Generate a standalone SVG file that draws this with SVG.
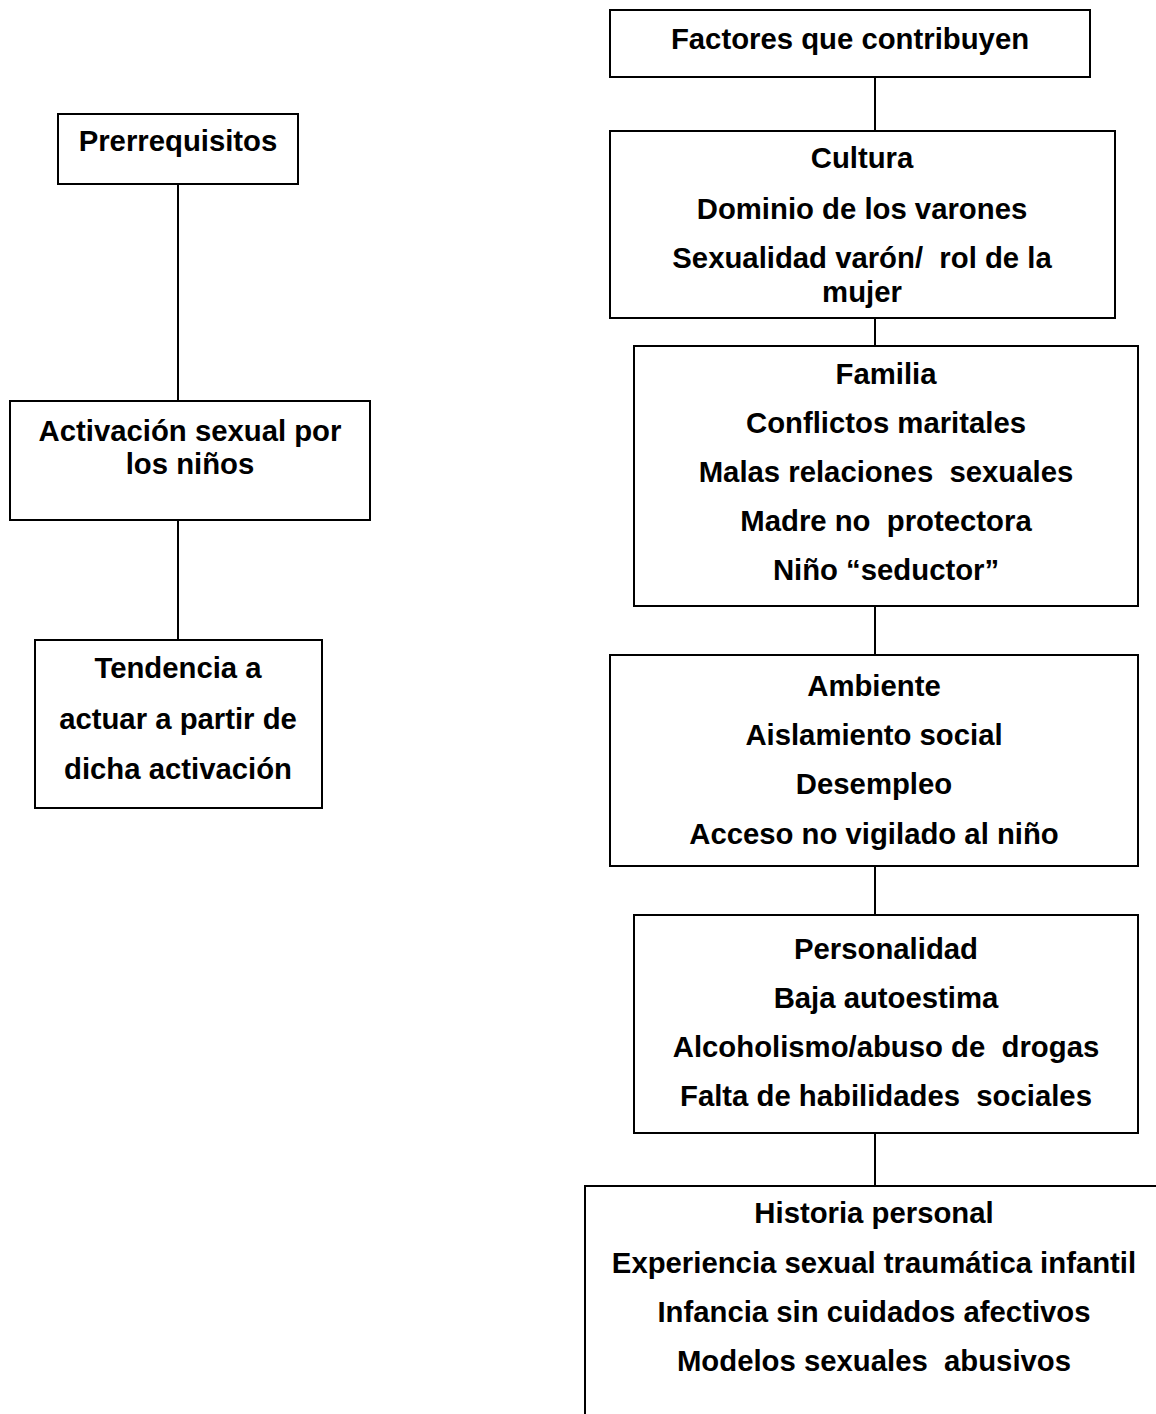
<svg xmlns="http://www.w3.org/2000/svg" width="1156" height="1414" viewBox="0 0 1156 1414">
<style>
.box{fill:#fff;stroke:#000;stroke-width:2}
.t{font-family:"Liberation Sans",Arial,sans-serif;font-weight:bold;font-size:29.3px;fill:#000;text-anchor:middle;white-space:pre}
.c{stroke:#000;stroke-width:2;fill:none}
</style>
<rect width="1156" height="1414" fill="#fff"/>
<g id="connectors">
<line class="c" x1="178" y1="184" x2="178" y2="401"/>
<line class="c" x1="178" y1="520" x2="178" y2="640"/>
<line class="c" x1="875" y1="77" x2="875" y2="131"/>
<line class="c" x1="875" y1="318" x2="875" y2="346"/>
<line class="c" x1="875" y1="606" x2="875" y2="655"/>
<line class="c" x1="875" y1="866" x2="875" y2="915"/>
<line class="c" x1="875" y1="1133" x2="875" y2="1186"/>
</g>
<g id="prerrequisitos">
<rect class="box" x="58" y="114" width="240" height="70"/>
<text class="t" x="178" y="151">Prerrequisitos</text>
</g>
<g id="activacion">
<rect class="box" x="10" y="401" width="360" height="119"/>
<text class="t" x="190" y="441">Activación sexual por</text>
<text class="t" x="190" y="474">los niños</text>
</g>
<g id="tendencia">
<rect class="box" x="35" y="640" width="287" height="168"/>
<text class="t" x="178" y="678">Tendencia a</text>
<text class="t" x="178" y="729">actuar a partir de</text>
<text class="t" x="178" y="779">dicha activación</text>
</g>
<g id="factores">
<rect class="box" x="610" y="10" width="480" height="67"/>
<text class="t" x="850" y="49">Factores que contribuyen</text>
</g>
<g id="cultura">
<rect class="box" x="610" y="131" width="505" height="187"/>
<text class="t" x="862" y="168">Cultura</text>
<text class="t" x="862" y="219">Dominio de los varones</text>
<text class="t" x="862" y="268">Sexualidad varón/  rol de la</text>
<text class="t" x="862" y="302">mujer</text>
</g>
<g id="familia">
<rect class="box" x="634" y="346" width="504" height="260"/>
<text class="t" x="886" y="384">Familia</text>
<text class="t" x="886" y="433">Conflictos maritales</text>
<text class="t" x="886" y="482">Malas relaciones  sexuales</text>
<text class="t" x="886" y="531">Madre no  protectora</text>
<text class="t" x="886" y="580">Niño “seductor”</text>
</g>
<g id="ambiente">
<rect class="box" x="610" y="655" width="528" height="211"/>
<text class="t" x="874" y="696">Ambiente</text>
<text class="t" x="874" y="745">Aislamiento social</text>
<text class="t" x="874" y="794">Desempleo</text>
<text class="t" x="874" y="844">Acceso no vigilado al niño</text>
</g>
<g id="personalidad">
<rect class="box" x="634" y="915" width="504" height="218"/>
<text class="t" x="886" y="959">Personalidad</text>
<text class="t" x="886" y="1008">Baja autoestima</text>
<text class="t" x="886" y="1057">Alcoholismo/abuso de  drogas</text>
<text class="t" x="886" y="1106">Falta de habilidades  sociales</text>
</g>
<g id="historia">
<rect class="box" x="585" y="1186" width="600" height="260"/>
<text class="t" x="874" y="1223">Historia personal</text>
<text class="t" x="874" y="1273">Experiencia sexual traumática infantil</text>
<text class="t" x="874" y="1322">Infancia sin cuidados afectivos</text>
<text class="t" x="874" y="1371">Modelos sexuales  abusivos</text>
</g>
</svg>
